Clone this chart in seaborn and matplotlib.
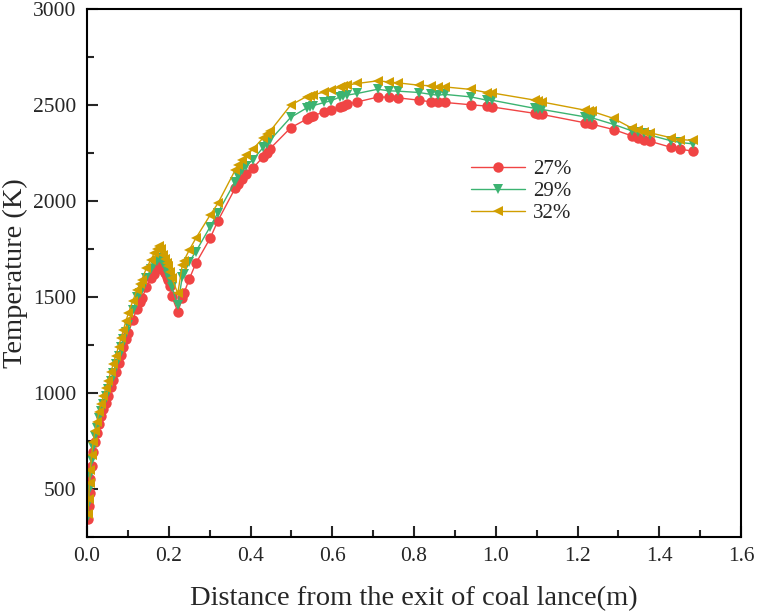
import numpy as np
import pandas as pd
import matplotlib
matplotlib.use("Agg")
import matplotlib.pyplot as plt
import seaborn as sns
from matplotlib.ticker import MultipleLocator

distance = [0.002, 0.004, 0.006, 0.008, 0.011, 0.015, 0.019, 0.024, 0.029, 0.034,
            0.040, 0.046, 0.052, 0.058, 0.064, 0.070, 0.077, 0.083, 0.089, 0.095,
            0.101, 0.112, 0.122, 0.130, 0.134, 0.145, 0.156, 0.164, 0.171, 0.177,
            0.182, 0.187, 0.191, 0.195, 0.199, 0.203, 0.207, 0.222, 0.233, 0.237,
            0.250, 0.266, 0.301, 0.320, 0.362, 0.370, 0.380, 0.390, 0.405, 0.431,
            0.440, 0.448, 0.498, 0.537, 0.546, 0.552, 0.580, 0.597, 0.619, 0.627,
            0.635, 0.661, 0.711, 0.738, 0.761, 0.812, 0.842, 0.859, 0.876, 0.939,
            0.978, 0.990, 1.096, 1.104, 1.112, 1.218, 1.227, 1.235, 1.288, 1.334,
            1.347, 1.363, 1.377, 1.429, 1.451, 1.482]

temp_27 = [345, 410, 480, 550, 620, 690, 745, 790, 840, 880,
           915, 950, 985, 1030, 1070, 1110, 1155, 1200, 1240, 1280,
           1315, 1380, 1440, 1476, 1493, 1550, 1597, 1620, 1645, 1667,
           1660, 1641, 1623, 1605, 1589, 1560, 1505, 1424, 1493, 1519,
           1594, 1675, 1806, 1897, 2066, 2090, 2115, 2140, 2170, 2231,
           2252, 2274, 2382, 2427, 2439, 2444, 2465, 2474, 2491, 2497,
           2504, 2517, 2542, 2542, 2538, 2526, 2517, 2514, 2514, 2502,
           2495, 2491, 2457, 2455, 2452, 2408, 2405, 2401, 2373, 2339,
           2327, 2318, 2312, 2280, 2271, 2260]

temp_29 = [360, 430, 505, 575, 650, 720, 775, 820, 870, 905,
           945, 985, 1020, 1065, 1105, 1150, 1195, 1240, 1280, 1320,
           1355, 1430, 1498, 1520, 1540, 1600, 1644, 1670, 1690, 1705,
           1700, 1680, 1660, 1640, 1615, 1590, 1554, 1458, 1606, 1620,
           1684, 1736, 1866, 1939, 2101, 2130, 2160, 2185, 2214, 2280,
           2300, 2318, 2436, 2485, 2493, 2497, 2514, 2523, 2543, 2548,
           2552, 2561, 2583, 2575, 2573, 2566, 2556, 2552, 2556, 2543,
           2526, 2526, 2483, 2480, 2478, 2439, 2437, 2434, 2400, 2365,
           2358, 2353, 2344, 2314, 2306, 2298]

temp_32 = [370, 450, 530, 600, 675, 745, 800, 850, 900, 940,
           985, 1025, 1065, 1110, 1150, 1195, 1240, 1285, 1330, 1375,
           1415, 1480, 1536, 1570, 1589, 1650, 1693, 1727, 1750, 1766,
           1750, 1720, 1700, 1675, 1660, 1632, 1600, 1519, 1667, 1690,
           1745, 1806, 1927, 1988, 2160, 2190, 2215, 2240, 2269, 2330,
           2350, 2365, 2500, 2545, 2550, 2552, 2569, 2578, 2595, 2600,
           2604, 2613, 2627, 2621, 2616, 2604, 2601, 2595, 2595, 2582,
           2566, 2564, 2526, 2522, 2517, 2474, 2472, 2468, 2431, 2379,
           2370, 2361, 2356, 2330, 2321, 2316]

labels = ["27%", "29%", "32%"]
colors = {"27%": "#F04444", "29%": "#3CB371", "32%": "#D19E00"}
markers = {"27%": "o", "29%": "v", "32%": "<"}

frames = []
for lab, vals in zip(labels, [temp_27, temp_29, temp_32]):
    frames.append(pd.DataFrame({"x": distance, "T": vals, "series": lab}))
df = pd.concat(frames, ignore_index=True)

sns.set_style("white")
plt.rcParams["font.family"] = ["Liberation Serif", "DejaVu Serif"]
plt.rcParams["mathtext.fontset"] = "stix"

fig = plt.figure(figsize=(7.57, 6.15), dpi=100)
ax = fig.add_axes([0.115, 0.127, 0.864, 0.858])

sns.lineplot(data=df, x="x", y="T", hue="series", style="series",
             palette=colors, markers=markers, dashes=False, sort=False,
             estimator=None, markersize=7.5, markeredgewidth=0,
             linewidth=1.0, ax=ax, legend=True)

ax.set_xlim(0, 1.6)
ax.set_ylim(250, 3000)
ax.xaxis.set_major_locator(MultipleLocator(0.2))
ax.xaxis.set_minor_locator(MultipleLocator(0.1))
ax.yaxis.set_minor_locator(MultipleLocator(250))
ax.set_yticks([500, 1000, 1500, 2000, 2500, 3000])
ax.xaxis.set_major_formatter(matplotlib.ticker.FormatStrFormatter("%.1f"))

ax.tick_params(axis="both", which="major", direction="in", length=8, width=1.5,
               labelsize=15.5, top=False, right=False, bottom=True, left=True)
ax.tick_params(axis="y", which="major", pad=8)
ax.tick_params(axis="x", which="major", pad=7)
ax.tick_params(axis="both", which="minor", direction="in", length=5, width=1.5,
               top=False, right=False, bottom=True, left=True)
for sp in ax.spines.values():
    sp.set_linewidth(1.5)
    sp.set_color("black")

ax.set_xlabel("Distance from the exit of coal lance(m)", fontsize=20.5, labelpad=15)
ax.set_ylabel("Temperature (K)", fontsize=20.5)
ax.yaxis.set_label_coords(-0.09, 0.5)

handles, labs = ax.get_legend_handles_labels()
ax.legend(handles, labs, loc="upper left", bbox_to_anchor=(0.558, 0.75),
          frameon=False, fontsize=15, handlelength=2.6, labelspacing=0.1,
          handletextpad=0.4)

fig.savefig("out.png", dpi=100)
